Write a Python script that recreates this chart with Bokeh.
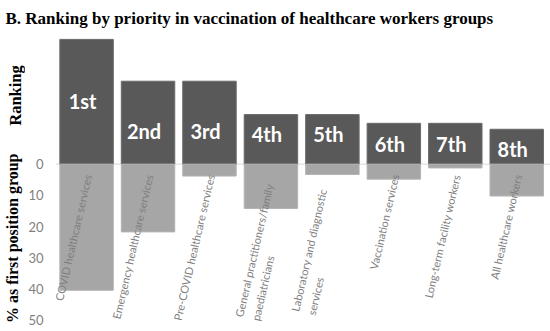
from bokeh.plotting import figure
from bokeh.layouts import column, row
from bokeh.models import Range1d, FixedTicker, Span, ColumnDataSource
from bokeh.core.properties import value
from bokeh.embed import file_html
from bokeh.resources import INLINE

# ---------------- data ----------------
title_text = "B. Ranking by priority in vaccination of healthcare workers groups"
upper_axis_label = "Ranking"
lower_axis_label = "% as first position group"
categories = [
    "COVID healthcare services",
    "Emergency healthcare services",
    "Pre-COVID healthcare services",
    "General practitioners/family\npaediatricians",
    "Laboratory and diagnostic\nservices",
    "Vaccination services",
    "Long-term facility workers",
    "All healthcare workers",
]
rank_labels = ["1st", "2nd", "3rd", "4th", "5th", "6th", "7th", "8th"]
ranking_height = [40.0, 26.6, 26.6, 15.9, 15.9, 13.1, 13.1, 11.2]
first_position_pct = [40.4, 21.7, 3.8, 14.2, 3.3, 4.8, 1.2, 10.2]
y_ticks = [0, 10, 20, 30, 40, 50]

# ---------------- layout helpers ----------------
rank_label_level = [20.3, 10.8, 10.8, 9.8, 9.8, 6.5, 6.5, 4.9]
multi_line_anchor = {3: (-0.39, 49.5), 4: (-0.48, 47.7)}

W, H = 550, 331
TITLE_H = 29
LEFT_W = 25
FRAME_LEFT = 53
PX_PER_X = 61.7
PX_PER_Y = 3.12
ZERO_Y = 163.7
CAT0_X = 84.2


def px_x(px):
    return (px - CAT0_X) / PX_PER_X


def px_y(py):
    return (py - ZERO_Y) / PX_PER_Y


def bare(fig):
    fig.outline_line_color = None
    fig.grid.visible = False
    fig.background_fill_color = "white"
    fig.border_fill_color = "white"
    return fig


xs = list(range(len(categories)))
shared_y = Range1d(px_y(H), px_y(TITLE_H))

# ---------- title strip ----------
tf = bare(figure(width=W, height=TITLE_H, x_range=Range1d(0, W), y_range=Range1d(TITLE_H, 0),
                 output_backend="svg", toolbar_location=None,
                 x_axis_location=None, y_axis_location=None,
                 min_border_left=0, min_border_right=0, min_border_top=0, min_border_bottom=0))
tf.text(x=[5], y=[17.5], text=[title_text], text_font=value("Liberation Serif"),
        text_font_style="bold", text_font_size="17px", text_color="black",
        text_align="left", text_baseline="alphabetic")

# ---------- left label strip ----------
lf = bare(figure(width=LEFT_W, height=H - TITLE_H, x_range=Range1d(0, LEFT_W), y_range=shared_y,
                 output_backend="svg", toolbar_location=None,
                 x_axis_location=None, y_axis_location=None,
                 min_border_left=0, min_border_right=0, min_border_top=0, min_border_bottom=0))
lf.text(x=[15], y=[px_y(95)], text=[upper_axis_label], angle=90, angle_units="deg",
        text_font=value("Liberation Serif"), text_font_style="bold", text_font_size="16.5px",
        text_color="black", text_align="center", text_baseline="middle")
lf.text(x=[11.5], y=[px_y(153)], text=[lower_axis_label], angle=90, angle_units="deg",
        text_font=value("Liberation Serif"), text_font_style="bold", text_font_size="16px",
        text_color="black", text_align="right", text_baseline="middle")

# ---------- main chart ----------
p = bare(figure(
    width=W - LEFT_W, height=H - TITLE_H,
    x_range=Range1d(px_x(FRAME_LEFT), px_x(W)),
    y_range=shared_y,
    output_backend="svg", toolbar_location=None,
    x_axis_location=None,
    min_border_left=FRAME_LEFT - LEFT_W, min_border_right=0, min_border_top=0, min_border_bottom=0,
))

yax = p.yaxis[0]
yax.ticker = FixedTicker(ticks=y_ticks)
yax.axis_line_color = None
yax.major_tick_line_color = None
yax.minor_tick_line_color = None
yax.major_tick_out = 0
yax.major_label_standoff = 12
yax.major_label_text_font = "Lato"
yax.major_label_text_font_size = "13px"
yax.major_label_text_color = "#7f7f7f"

p.add_layout(Span(location=0, dimension="width", line_color="#d9d9d9",
                  line_width=1, level="underlay"))

src = ColumnDataSource(dict(
    x=xs,
    rank_top=[-h for h in ranking_height],
    pct=first_position_pct,
    label=rank_labels,
    label_y=[-v for v in rank_label_level],
))

p.vbar(x="x", bottom=0, top="rank_top", width=0.87, source=src,
       fill_color="#595959", line_color="#6a6a6a", line_width=1)
p.vbar(x="x", bottom=0, top="pct", width=0.87, source=src,
       fill_color="#a6a6a6", line_color="#b4b4b4", line_width=1)

p.text(x="x", y="label_y", text="label", source=src, text_color="white",
       text_font=value("Lato"), text_font_style="bold", text_font_size="20px",
       text_align="center", text_baseline="middle", x_offset=-4)

single = [i for i in xs if i not in multi_line_anchor]
p.text(x=[i + 0.02 for i in single], y=[3.3] * len(single),
       text=[categories[i] for i in single], angle=77, angle_units="deg",
       text_align="right", text_baseline="middle", text_color="#7f7f7f",
       text_font=value("Lato"), text_font_size="11px")
multi = list(multi_line_anchor)
p.text(x=[i + multi_line_anchor[i][0] for i in multi],
       y=[multi_line_anchor[i][1] for i in multi],
       text=[categories[i] for i in multi], angle=77, angle_units="deg",
       text_align="left", text_baseline="middle", text_color="#7f7f7f",
       text_font=value("Lato"), text_font_size="11px", text_line_height=1.3)

layout = column(tf, row(lf, p, spacing=0), spacing=0)
open("out.html", "w").write(file_html(layout, INLINE))
